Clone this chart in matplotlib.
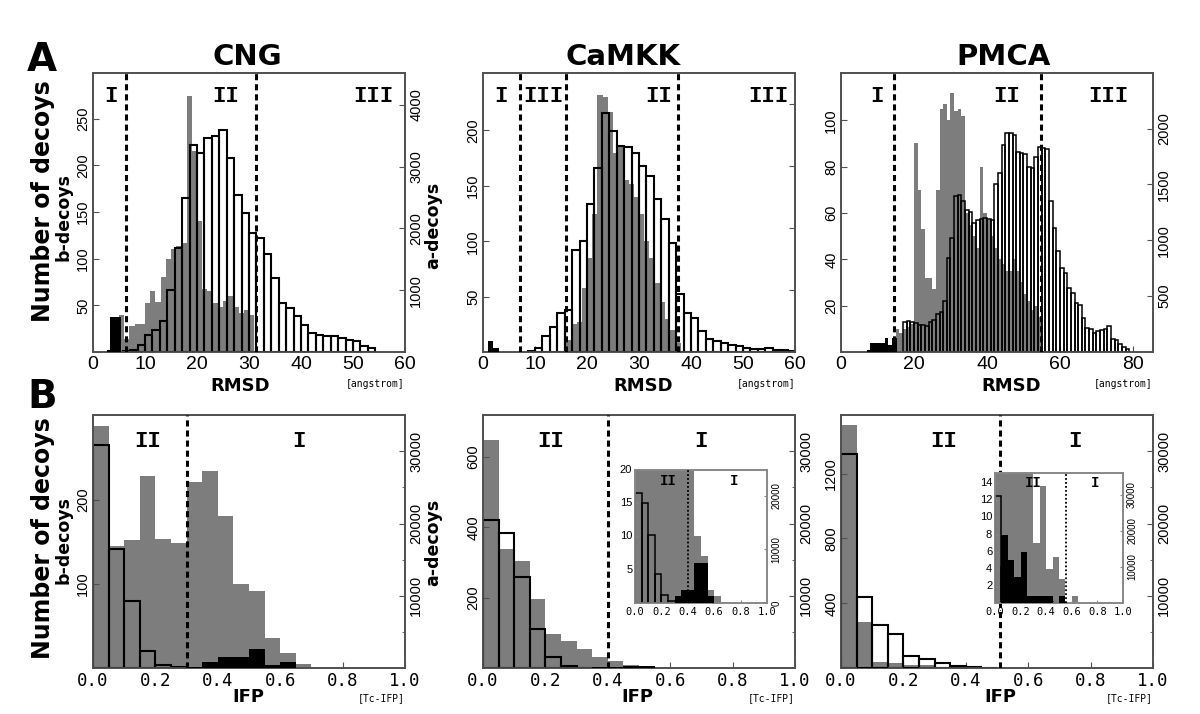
import numpy as np
import matplotlib.pyplot as plt
from matplotlib import font_manager

_names = {f.name for f in font_manager.fontManager.ttflist}
NARROW = 'Liberation Sans Narrow' if 'Liberation Sans Narrow' in _names else 'Liberation Sans'
MONO = 'DejaVu Sans Mono'
ROMAN = 'Liberation Mono'
GRAY = '#7d7d7d'
SPINE = '#505050'

# ---------------- A row : RMSD histograms ----------------
# gray = b-decoys (left axis), outline = a-decoys (right axis), black = b-decoys in region I
cng_a_gray_edges = np.arange(4, 32)
cng_a_gray = [30, 40, 14, 28, 30, 30, 52, 65, 54, 80, 100, 110, 113, 117,
              274, 215, 140, 68, 65, 52, 48, 55, 60, 48, 42, 45, 40]
cng_a_line_edges = np.arange(4, 39) * 10 / 7
cng_a_line = [15, 38, 119, 281, 362, 497, 1000, 1690, 2500, 3350, 3227, 3470,
              3490, 3590, 3146, 2550, 2254, 1930, 1850, 1580, 1200, 795, 713,
              578, 443, 308, 281, 254, 254, 227, 200, 173, 103, 65]
cng_a_black_edges = [2.6, 3.3, 5.4]
cng_a_black = [2, 37]

camkk_a_gray_edges = np.arange(16, 39)
camkk_a_gray = [11, 25, 27, 58, 85, 125, 232, 230, 217, 180, 187, 155, 152,
                140, 125, 100, 85, 62, 45, 30, 20, 8]
camkk_a_line_edges = np.arange(6, 43) * 10 / 7
camkk_a_line = [18, 70, 250, 410, 625, 680, 1640, 1790, 2390, 2960, 3860, 3570,
                3320, 3300, 3210, 3000, 2840, 2460, 2140, 1750, 930, 625, 550,
                340, 215, 180, 145, 110, 90, 70, 55, 55, 70, 35, 25, 18]
camkk_a_black_edges = [1, 2, 3]
camkk_a_black = [10, 4]

pmca_a_gray_edges = np.arange(15, 56)
pmca_a_gray = [10, 8, 10, 11, 12, 90, 70, 53, 32, 32, 27, 70, 105, 107, 100,
               112, 104, 105, 102, 60, 55, 50, 45, 80, 60, 57, 50, 45, 40, 38,
               35, 35, 40, 35, 30, 25, 22, 18, 20, 15]
pmca_a_line_edges = np.arange(17, 80)
pmca_a_line = [270, 280, 265, 258, 245, 238, 236, 270, 285, 340, 360, 455, 842,
               1020, 1400, 1410, 1348, 1270, 1250, 1155, 1180, 1190, 1200, 1195,
               1184, 1500, 1600, 1854, 1958, 1960, 1943, 1790, 1780, 1770, 1660,
               1650, 1750, 1840, 1830, 1820, 1348, 1110, 902, 750, 708, 574, 530,
               440, 420, 307, 217, 210, 173, 188, 200, 205, 232, 120, 105, 74,
               45, 24]
pmca_a_black_edges = [7, 8, 12, 13, 14, 15.3]
pmca_a_black = [0.8, 4, 6, 3, 6]

# ---------------- B row : IFP histograms ----------------
cng_b_gray_edges = np.linspace(0, 0.75, 16)
cng_b_gray = [287, 145, 152, 228, 153, 148, 221, 234, 180, 100, 92, 36, 18, 5, 1]
cng_b_line_edges = np.linspace(0, 0.30, 7)
cng_b_line = [30830, 16500, 9260, 2350, 370, 180]
cng_b_black_edges = np.linspace(0.30, 0.65, 8)
cng_b_black = [1, 7, 13, 13, 23, 4, 7]

camkk_b_gray_edges = np.linspace(0, 0.65, 14)
camkk_b_gray = [650, 339, 304, 195, 96, 77, 54, 32, 21, 10, 7, 2, 1]
camkk_b_line_edges = np.linspace(0, 0.35, 8)
camkk_b_line = [20460, 18700, 12630, 5350, 1520, 280, 50]
camkk_b_black_edges = np.linspace(0.30, 0.60, 7)
camkk_b_black = [1, 2, 2, 6, 6, 1]

pmca_b_gray_edges = np.linspace(0, 0.65, 14)
pmca_b_gray = [1500, 283, 35, 31, 20, 17, 7, 13.7, 4, 5.4, 2.8, 0, 0.8]
pmca_b_line_edges = np.linspace(0, 0.5, 11)
pmca_b_line = [29600, 9900, 5900, 4750, 1700, 1300, 690, 320, 140, 50]
pmca_b_black_edges = np.linspace(0.05, 0.55, 11)
pmca_b_black = [8, 5, 3, 6, 0.8, 0.8, 0.8, 0.8, 0, 0.8]

# region boundaries and labels
cng_a_cuts, cng_a_regions, cng_a_region_x = [6.3, 31.3], ['I', 'II', 'III'], [3.4, 25.5, 54]
camkk_a_cuts, camkk_a_regions, camkk_a_region_x = [7.1, 16.0, 37.5], ['I', 'III', 'II', 'III'], [3.5, 11.6, 33.7, 54.9]
pmca_a_cuts, pmca_a_regions, pmca_a_region_x = [14.6, 54.7], ['I', 'II', 'III'], [9.8, 45.4, 73.2]
cng_b_cuts, cng_b_regions, cng_b_region_x = [0.3], ['II', 'I'], [0.176, 0.66]
camkk_b_cuts, camkk_b_regions, camkk_b_region_x = [0.401], ['II', 'I'], [0.218, 0.697]
pmca_b_cuts, pmca_b_regions, pmca_b_region_x = [0.511], ['II', 'I'], [0.328, 0.751]
camkk_in_cuts, camkk_in_region_x = [0.405], [0.25, 0.75]
pmca_in_cuts, pmca_in_region_x = [0.553], [0.3, 0.78]

rmsd_ticks_60 = [0, 10, 20, 30, 40, 50, 60]
rmsd_ticks_80 = [0, 20, 40, 60, 80]
ifp_ticks = [0.0, 0.2, 0.4, 0.6, 0.8, 1.0]
ifp_ticklabels = ['0.0', '0.2', '0.4', '0.6', '0.8', '1.0']
titles = ['CNG', 'CaMKK', 'PMCA']

fig = plt.figure(figsize=(12, 7.14), dpi=100)


def histo_panel(rect, gray, line, black, xlim, ylim_l, ylim_r, xticks, xticklabels,
                lticks, rticks, rlabels=True, xfont=NARROW, xsize=14, ysize=10.5,
                rsize=10.5, lrot=90, line_lw=1.5, spine_color=SPINE, tick_len=4,
                name='', rminor=None):
    ax = fig.add_axes(rect, label=name + '_l')
    ax2 = ax.twinx()
    top = fig.add_axes(rect, sharex=ax, sharey=ax, label=name + '_t')
    top.set_axis_off()

    ax.stairs(gray[1], gray[0], fill=True, color=GRAY, lw=0)
    ax2.bar(line[0][:-1], line[1], width=np.diff(line[0]), align='edge',
            facecolor='none', edgecolor='black', linewidth=line_lw)
    top.stairs(black[1], black[0], fill=True, color='black', lw=0)

    ax.set_xlim(xlim)
    ax.set_ylim(ylim_l)
    ax2.set_ylim(ylim_r)

    ax.set_xticks(xticks)
    ax.set_xticklabels(xticklabels, fontfamily=xfont, fontsize=xsize)
    ax.set_yticks(lticks)
    ax.set_yticklabels([str(v) for v in lticks], rotation=lrot, va='center',
                       fontfamily=NARROW, fontsize=ysize)
    ax2.set_yticks(rticks)
    if rlabels:
        ax2.set_yticklabels([str(v) for v in rticks], rotation=90, va='center',
                            fontfamily=NARROW, fontsize=rsize)
    else:
        ax2.set_yticklabels([])
    if rminor is not None:
        ax2.set_yticks(rminor, minor=True)
    ax.tick_params(direction='in', length=tick_len, color=spine_color)
    ax.tick_params(axis='y', pad=2)
    ax.tick_params(axis='x', pad=3)
    ax2.tick_params(direction='in', length=tick_len, color=spine_color, pad=3)
    ax2.tick_params(which='minor', direction='in', length=tick_len * 0.6, color=spine_color)
    for a in (ax, ax2):
        for s in a.spines.values():
            s.set_color(spine_color)
            s.set_linewidth(1.2)
    return ax, ax2, top


def regions(top, cuts, labels, xs, y, size, dotted=False):
    for c in cuts:
        if dotted:
            top.axvline(c, color='black', lw=1.3, linestyle=(0, (1, 1.2)))
        else:
            top.axvline(c, color='black', lw=2.2, linestyle=(0, (2, 1.3)))
    for lab, x in zip(labels, xs):
        top.text(x, y, lab, transform=top.get_xaxis_transform(), ha='center',
                 va='center', fontfamily=ROMAN, fontweight='bold', fontsize=size)


cols = [93 / 1200, 483 / 1200, 841 / 1200]
wid = 312 / 1200
rowA = (0.507, 0.391)
rowB = (0.0644, 0.354)

# ---- row A ----
_, _, t = histo_panel([cols[0], rowA[0], wid, rowA[1]],
                      (cng_a_gray_edges, cng_a_gray), (cng_a_line_edges, cng_a_line),
                      (cng_a_black_edges, cng_a_black), (0, 60), (0, 299), (0, 4520),
                      rmsd_ticks_60, [str(v) for v in rmsd_ticks_60],
                      [50, 100, 150, 200, 250], [1000, 2000, 3000, 4000], name='cngA')
regions(t, cng_a_cuts, cng_a_regions, cng_a_region_x, 0.915, 16)

_, _, t = histo_panel([cols[1], rowA[0], wid, rowA[1]],
                      (camkk_a_gray_edges, camkk_a_gray), (camkk_a_line_edges, camkk_a_line),
                      (camkk_a_black_edges, camkk_a_black), (0, 60), (0, 252), (0, 4500),
                      rmsd_ticks_60, [str(v) for v in rmsd_ticks_60],
                      [50, 100, 150, 200], [1000, 2000, 3000, 4000], rlabels=False,
                      name='camkkA')
regions(t, camkk_a_cuts, camkk_a_regions, camkk_a_region_x, 0.915, 16)

_, _, t = histo_panel([cols[2], rowA[0], wid, rowA[1]],
                      (pmca_a_gray_edges, pmca_a_gray), (pmca_a_line_edges, pmca_a_line),
                      (pmca_a_black_edges, pmca_a_black), (0, 85.5), (0, 120.5), (0, 2500),
                      rmsd_ticks_80, [str(v) for v in rmsd_ticks_80],
                      [20, 40, 60, 80, 100], [500, 1000, 1500, 2000], line_lw=1.1,
                      name='pmcaA')
regions(t, pmca_a_cuts, pmca_a_regions, pmca_a_region_x, 0.915, 16)

# ---- row B ----
_, _, t = histo_panel([cols[0], rowB[0], wid, rowB[1]],
                      (cng_b_gray_edges, cng_b_gray), (cng_b_line_edges, cng_b_line),
                      (cng_b_black_edges, cng_b_black), (0, 1), (0, 300), (0, 35000),
                      ifp_ticks, ifp_ticklabels, [100, 200], [10000, 20000, 30000],
                      xfont=MONO, xsize=12.5, rminor=[5000, 15000, 25000], name='cngB')
regions(t, cng_b_cuts, cng_b_regions, cng_b_region_x, 0.895, 16)

_, _, t = histo_panel([cols[1], rowB[0], wid, rowB[1]],
                      (camkk_b_gray_edges, camkk_b_gray), (camkk_b_line_edges, camkk_b_line),
                      (camkk_b_black_edges, camkk_b_black), (0, 1), (0, 719), (0, 35000),
                      ifp_ticks, ifp_ticklabels, [200, 400, 600], [10000, 20000, 30000],
                      xfont=MONO, xsize=12.5, rminor=[5000, 15000, 25000], name='camkkB')
regions(t, camkk_b_cuts, camkk_b_regions, camkk_b_region_x, 0.895, 16)

_, _, t = histo_panel([cols[2], rowB[0], wid, rowB[1]],
                      (pmca_b_gray_edges, pmca_b_gray), (pmca_b_line_edges, pmca_b_line),
                      (pmca_b_black_edges, pmca_b_black), (0, 1), (0, 1560), (0, 35000),
                      ifp_ticks, ifp_ticklabels, [400, 800, 1200], [10000, 20000, 30000],
                      xfont=MONO, xsize=12.5, rminor=[5000, 15000, 25000], name='pmcaB')
regions(t, pmca_b_cuts, pmca_b_regions, pmca_b_region_x, 0.895, 16)

# ---- insets ----
_, _, t = histo_panel([635 / 1200, 0.1555, 132 / 1200, 133 / 714],
                      (camkk_b_gray_edges, camkk_b_gray), (camkk_b_line_edges, camkk_b_line),
                      (camkk_b_black_edges, camkk_b_black), (0, 1), (0, 20), (0, 24800),
                      ifp_ticks, ifp_ticklabels, [5, 10, 15, 20], [0, 10000, 20000],
                      xfont=MONO, xsize=7.5, ysize=8, rsize=7, lrot=0, line_lw=1.1,
                      spine_color='#888888', tick_len=2.5, name='camkkIn')
regions(t, camkk_in_cuts, ['II', 'I'], camkk_in_region_x, 0.92, 10, dotted=True)

_, _, t = histo_panel([995 / 1200, 0.1555, 128 / 1200, 130 / 714],
                      (pmca_b_gray_edges, pmca_b_gray), (pmca_b_line_edges, pmca_b_line),
                      (pmca_b_black_edges, pmca_b_black), (0, 1), (0, 15.2), (0, 36000),
                      ifp_ticks, ifp_ticklabels, [2, 4, 6, 8, 10, 12, 14],
                      [10000, 20000, 30000], xfont=MONO, xsize=7.5, ysize=8, rsize=7,
                      lrot=0, line_lw=1.1, spine_color='#888888', tick_len=2.5,
                      name='pmcaIn')
regions(t, pmca_in_cuts, ['II', 'I'], pmca_in_region_x, 0.92, 10, dotted=True)

# ---- text ----
for x, s in zip([0.206, 0.519, 0.836], titles):
    fig.text(x, 0.92, s, ha='center', va='center', fontsize=21, fontweight='heavy')
fig.text(0.035, 0.916, 'A', ha='center', va='center', fontsize=28, fontweight='heavy')
fig.text(0.035, 0.444, 'B', ha='center', va='center', fontsize=28, fontweight='heavy')
for y in (0.718, 0.246):
    fig.text(0.036, y, 'Number of decoys', rotation=90, ha='center', va='center',
             fontsize=17, fontweight='bold')
for y in (0.696, 0.244):
    fig.text(0.0525, y, 'b-decoys', rotation=90, ha='center', va='center',
             fontsize=12.5, fontweight='bold')
for y in (0.685, 0.24):
    fig.text(0.361, y, 'a-decoys', rotation=90, ha='center', va='center',
             fontsize=12.5, fontweight='bold')
for x in (0.2, 0.536, 0.843):
    fig.text(x, 0.459, 'RMSD', ha='center', va='center', fontsize=13, fontweight='bold')
for x in (0.207, 0.531, 0.834):
    fig.text(x, 0.024, 'IFP', ha='center', va='center', fontsize=13, fontweight='bold')
for c in cols:
    fig.text(c + wid, 0.462, '[angstrom]', ha='right', va='center', fontsize=7,
             fontfamily=MONO)
    fig.text(c + wid, 0.022, '[Tc-IFP]', ha='right', va='center', fontsize=7,
             fontfamily=MONO)

fig.savefig('out.png', dpi=100)
